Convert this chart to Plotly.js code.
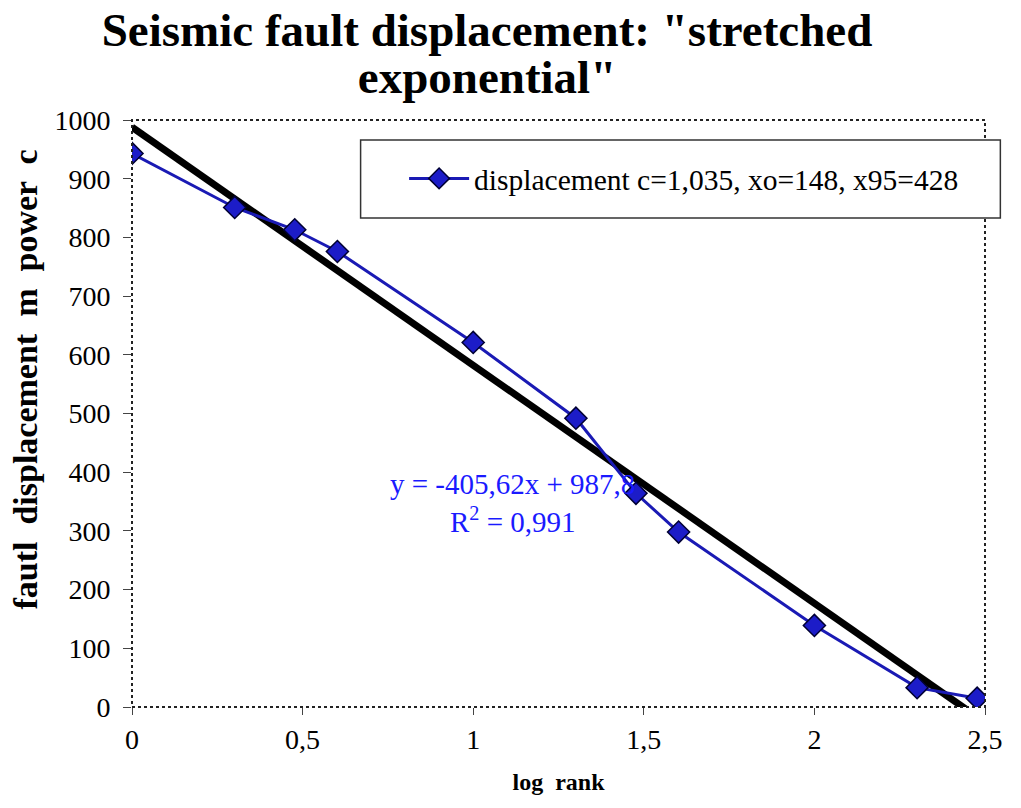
<!DOCTYPE html>
<html>
<head>
<meta charset="utf-8">
<script src="https://cdn.plot.ly/plotly-3.0.1.min.js"></script>
<style>html,body{margin:0;padding:0;background:#fff;}#chart{width:1021px;height:808px;}</style>
</head>
<body>
<div id="chart"></div>
<script>
// Data
const logRank = [0, 0.301, 0.477, 0.602, 1.0, 1.301, 1.477, 1.602, 2.0, 2.301, 2.477];
const displacement = [943, 851, 813, 776, 621, 492, 364, 298, 139, 33, 15];
const fitSlope = -405.62;
const fitIntercept = 987.8;
const fitX = [0, 2.5];
const fitY = fitX.map(x => fitSlope * x + fitIntercept);
const seriesName = 'displacement c=1,035, xo=148, x95=428';
const fitLabel = 'y = -405,62x + 987,8<br>R<sup>2</sup> = 0,991';
const titleLines = ['Seismic fault displacement: "stretched', 'exponential"'];
const yTitleWords = ['fautl', 'displacement', 'm', 'power', 'c'];
const xTitleWords = ['log', 'rank'];

const serif = "'Liberation Serif', 'Times New Roman', serif";
const gap = ' &nbsp;';
// leading non-breaking spaces lift the rotated y title above the plot centre, as in the reference
const yTitleLead = '&nbsp;'.repeat(8);

const traces = [
  {
    x: fitX, y: fitY, mode: 'lines', type: 'scatter',
    line: {color: '#000000', width: 7},
    showlegend: false, hoverinfo: 'skip'
  },
  {
    x: logRank, y: displacement, mode: 'lines+markers', type: 'scatter',
    name: seriesName,
    line: {color: '#1a1ab4', width: 3},
    marker: {symbol: 'diamond', size: 17, color: '#1c1cc8', line: {color: '#000033', width: 1.5}}
  }
];

const layout = {
  width: 1021, height: 808,
  paper_bgcolor: '#ffffff', plot_bgcolor: '#ffffff',
  separators: ',.',
  margin: {l: 132, r: 36, t: 120, b: 101},
  font: {family: serif, color: '#000000', size: 28},
  title: {
    text: '<span style="font-size:47px"><b>' + titleLines.join('<br>') + '</b></span>',
    x: 0.477, xanchor: 'center', xref: 'container',
    y: 0.943, yanchor: 'bottom', yref: 'container',
    font: {family: serif, size: 36, color: '#000000'}
  },
  xaxis: {
    range: [0, 2.5], dtick: 0.5, tick0: 0,
    showgrid: false, zeroline: false,
    showline: false,
    ticks: 'outside', ticklen: 7, tickcolor: '#444', tickwidth: 1,
    tickfont: {family: serif, size: 28, color: '#000'},
    title: {text: '<b>' + xTitleWords.join(' &nbsp;') + '</b>', font: {family: serif, size: 24, color: '#000'}, standoff: 19}
  },
  yaxis: {
    range: [0, 1000], dtick: 100, tick0: 0,
    showgrid: false, zeroline: false,
    showline: false,
    ticks: 'outside', ticklen: 8, tickcolor: '#444', tickwidth: 1,
    ticklabelstandoff: 7,
    tickfont: {family: serif, size: 28, color: '#000'},
    title: {text: yTitleLead + '<b>' + yTitleWords.join(gap) + '</b>', font: {family: serif, size: 34, color: '#000'}, standoff: 6}
  },
  showlegend: true,
  legend: {
    x: 0.319, xanchor: 'left', y: 0.9, yanchor: 'middle',
    bgcolor: 'rgba(0,0,0,0)', borderwidth: 0,
    itemwidth: 60,
    font: {family: serif, size: 29.5, color: '#000'}
  },
  shapes: [
    {type: 'rect', xref: 'paper', yref: 'paper', x0: 0, x1: 1, y0: 0, y1: 1,
     line: {color: '#222', width: 2, dash: 'dot'}, layer: 'above'},
    {type: 'rect', xref: 'paper', yref: 'paper', x0: 0.268, x1: 1.018, y0: 0.833, y1: 0.966,
     fillcolor: '#ffffff', line: {color: '#333', width: 1.5}, layer: 'above'}
  ],
  annotations: [
    {x: 1.115, y: 347, xref: 'x', yref: 'y', text: fitLabel, showarrow: false,
     align: 'center', font: {family: serif, size: 29, color: '#1a1aff'}}
  ]
};

Plotly.newPlot('chart', traces, layout, {displayModeBar: false, staticPlot: true});
</script>
</body>
</html>
